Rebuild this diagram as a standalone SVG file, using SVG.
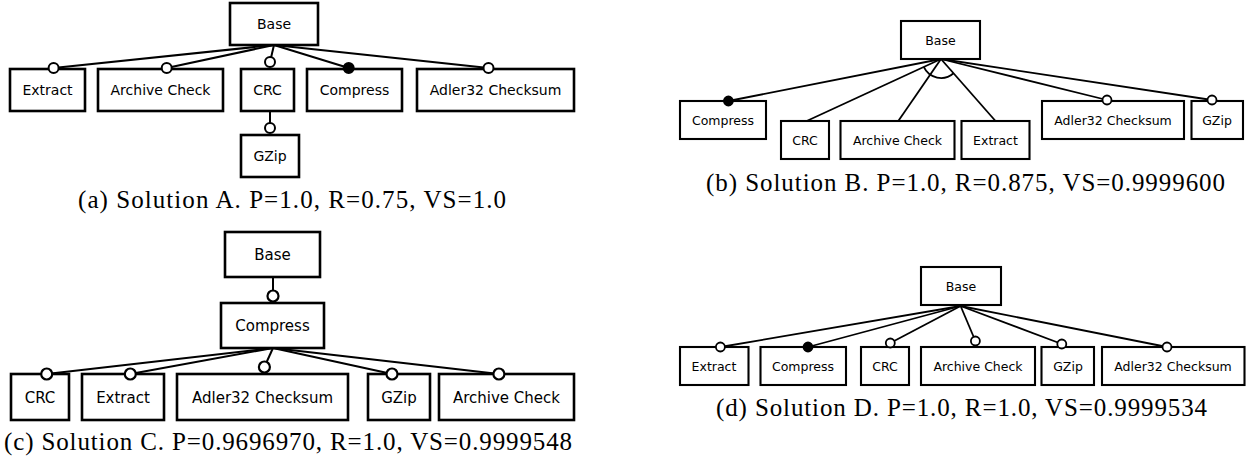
<svg xmlns="http://www.w3.org/2000/svg" width="1249" height="461" viewBox="0 0 1249 461">
<style>
  .box { fill: #fff; stroke: #000; }
  .bA { stroke-width: 2.6; }
  .bB { stroke-width: 2.1; }
  .lbl { font-family: "DejaVu Sans", sans-serif; fill: #000; text-anchor: middle; }
  .fA { font-size: 14px; }
  .fB { font-size: 12.5px; }
  .fC { font-size: 15px; }
  .edge { stroke: #000; fill: none; }
  .eA { stroke-width: 2; }
  .eB { stroke-width: 1.8; }
  .open { fill: #fff; stroke: #000; }
  .fill { fill: #000; stroke: #000; }
  .cap { font-family: "Liberation Serif", "Times New Roman", serif; font-size: 25px; fill: #000; }
</style>
<rect width="1249" height="461" fill="#fff"/>

<!-- Panel a nodes -->
<g id="a-base"><rect class="box bA" x="230" y="3" width="88" height="42"/><text class="lbl fA" x="274" y="29">Base</text></g>
<g id="a-extract"><rect class="box bA" x="10" y="69" width="75" height="42"/><text class="lbl fA" x="47.5" y="95">Extract</text></g>
<g id="a-archive"><rect class="box bA" x="98" y="69" width="125" height="42"/><text class="lbl fA" x="160.5" y="95">Archive Check</text></g>
<g id="a-crc"><rect class="box bA" x="241" y="69" width="53" height="42"/><text class="lbl fA" x="267.5" y="95">CRC</text></g>
<g id="a-compress"><rect class="box bA" x="307" y="69" width="95" height="42"/><text class="lbl fA" x="354.5" y="95">Compress</text></g>
<g id="a-adler"><rect class="box bA" x="417" y="69" width="157" height="42"/><text class="lbl fA" x="495.5" y="95">Adler32 Checksum</text></g>
<g id="a-gzip"><rect class="box bA" x="241" y="135" width="58" height="42"/><text class="lbl fA" x="270" y="161">GZip</text></g>
<text id="cap-a" class="cap" x="78" y="208" textLength="428" lengthAdjust="spacing">(a) Solution A. P=1.0, R=0.75, VS=1.0</text>

<!-- Panel b nodes -->
<g id="b-base"><rect class="box bB" x="901" y="21" width="79" height="38"/><text class="lbl fB" x="940.5" y="44.5">Base</text></g>
<g id="b-compress"><rect class="box bB" x="680" y="101" width="86" height="38"/><text class="lbl fB" x="723" y="124.5">Compress</text></g>
<g id="b-crc"><rect class="box bB" x="781" y="121" width="48" height="38"/><text class="lbl fB" x="805" y="144.5">CRC</text></g>
<g id="b-archive"><rect class="box bB" x="840.5" y="121" width="114" height="38"/><text class="lbl fB" x="897.5" y="144.5">Archive Check</text></g>
<g id="b-extract"><rect class="box bB" x="961.5" y="121" width="68" height="38"/><text class="lbl fB" x="995.5" y="144.5">Extract</text></g>
<g id="b-adler"><rect class="box bB" x="1042" y="101" width="142" height="38"/><text class="lbl fB" x="1113" y="124.5">Adler32 Checksum</text></g>
<g id="b-gzip"><rect class="box bB" x="1191.5" y="101" width="51.5" height="38"/><text class="lbl fB" x="1217" y="124.5">GZip</text></g>
<text id="cap-b" class="cap" x="706" y="191" textLength="519" lengthAdjust="spacing">(b) Solution B. P=1.0, R=0.875, VS=0.9999600</text>

<!-- Panel c nodes -->
<g id="c-base"><rect class="box bA" x="225" y="232" width="95" height="45"/><text class="lbl fC" x="272.5" y="260">Base</text></g>
<g id="c-compress"><rect class="box bA" x="221" y="303" width="103" height="45"/><text class="lbl fC" x="272.5" y="331">Compress</text></g>
<g id="c-crc"><rect class="box bA" x="11" y="374" width="58" height="46"/><text class="lbl fC" x="40" y="402.5">CRC</text></g>
<g id="c-extract"><rect class="box bA" x="82" y="374" width="82" height="46"/><text class="lbl fC" x="123" y="402.5">Extract</text></g>
<g id="c-adler"><rect class="box bA" x="177" y="374" width="171" height="46"/><text class="lbl fC" x="262.5" y="402.5">Adler32 Checksum</text></g>
<g id="c-gzip"><rect class="box bA" x="368" y="374" width="62" height="46"/><text class="lbl fC" x="399" y="402.5">GZip</text></g>
<g id="c-archive"><rect class="box bA" x="439" y="374" width="135" height="46"/><text class="lbl fC" x="506.5" y="402.5">Archive Check</text></g>
<text id="cap-c" class="cap" x="4" y="450" textLength="568" lengthAdjust="spacing">(c) Solution C. P=0.9696970, R=1.0, VS=0.9999548</text>

<!-- Panel d nodes -->
<g id="d-base"><rect class="box bB" x="921" y="267" width="80" height="38"/><text class="lbl fB" x="961" y="290.5">Base</text></g>
<g id="d-extract"><rect class="box bB" x="680" y="347" width="68.5" height="38"/><text class="lbl fB" x="714" y="370.5">Extract</text></g>
<g id="d-compress"><rect class="box bB" x="760.5" y="347" width="85.5" height="38"/><text class="lbl fB" x="803" y="370.5">Compress</text></g>
<g id="d-crc"><rect class="box bB" x="861" y="347" width="48" height="38"/><text class="lbl fB" x="885" y="370.5">CRC</text></g>
<g id="d-archive"><rect class="box bB" x="921" y="347" width="114" height="38"/><text class="lbl fB" x="978" y="370.5">Archive Check</text></g>
<g id="d-gzip"><rect class="box bB" x="1041.5" y="347" width="52.5" height="38"/><text class="lbl fB" x="1068" y="370.5">GZip</text></g>
<g id="d-adler"><rect class="box bB" x="1102" y="347" width="142.5" height="38"/><text class="lbl fB" x="1173" y="370.5">Adler32 Checksum</text></g>
<text id="cap-d" class="cap" x="716" y="416" textLength="491" lengthAdjust="spacing">(d) Solution D. P=1.0, R=1.0, VS=0.9999534</text>

<!-- Connectors (drawn above the boxes so the circle ends stay whole) -->
<g id="connectors">
  <!-- panel a -->
  <g class="edge eA">
    <line x1="274" y1="45" x2="53.6" y2="68"/>
    <line x1="274" y1="45" x2="166.7" y2="68"/>
    <line x1="274" y1="45" x2="270" y2="62"/>
    <line x1="274" y1="45" x2="348.7" y2="68"/>
    <line x1="274" y1="45" x2="488.5" y2="68"/>
    <line x1="270" y1="111" x2="270" y2="128"/>
  </g>
  <g stroke-width="2">
    <circle class="open" cx="53.6" cy="68" r="5"/>
    <circle class="open" cx="166.7" cy="68" r="5"/>
    <circle class="open" cx="270" cy="62" r="5"/>
    <circle class="fill" cx="348.7" cy="68" r="5"/>
    <circle class="open" cx="488.5" cy="68" r="5"/>
    <circle class="open" cx="270" cy="128" r="5"/>
  </g>
  <!-- panel b -->
  <g class="edge eB">
    <line x1="941" y1="59" x2="728.4" y2="101"/>
    <line x1="941" y1="59" x2="806.7" y2="121"/>
    <line x1="941" y1="59" x2="898.3" y2="121"/>
    <line x1="941" y1="59" x2="995.5" y2="121"/>
    <line x1="941" y1="59" x2="1107" y2="100"/>
    <line x1="941" y1="59" x2="1212" y2="100"/>
    <path d="M923.75,66.96 A19,19 0 0 0 953.54,73.27"/>
  </g>
  <g stroke-width="1.8">
    <circle class="fill" cx="728.4" cy="101" r="4.5"/>
    <circle class="open" cx="1107" cy="100" r="4.5"/>
    <circle class="open" cx="1212" cy="100" r="4.5"/>
  </g>
  <!-- panel c -->
  <g class="edge eA">
    <line x1="273" y1="277" x2="273" y2="296"/>
    <line x1="273" y1="348" x2="46.7" y2="374"/>
    <line x1="273" y1="348" x2="130.3" y2="374"/>
    <line x1="273" y1="348" x2="264.4" y2="367"/>
    <line x1="273" y1="348" x2="392" y2="374"/>
    <line x1="273" y1="348" x2="498.9" y2="374"/>
  </g>
  <g stroke-width="2.2">
    <circle class="open" cx="273" cy="296" r="5.5"/>
    <circle class="open" cx="46.7" cy="374" r="5.5"/>
    <circle class="open" cx="130.3" cy="374" r="5.5"/>
    <circle class="open" cx="264.4" cy="367" r="5.5"/>
    <circle class="open" cx="392" cy="374" r="5.5"/>
    <circle class="open" cx="498.9" cy="374" r="5.5"/>
  </g>
  <!-- panel d -->
  <g class="edge eB">
    <line x1="960.6" y1="306" x2="720.4" y2="347"/>
    <line x1="960.6" y1="306" x2="808" y2="347"/>
    <line x1="960.6" y1="306" x2="890.3" y2="343"/>
    <line x1="960.6" y1="306" x2="975.4" y2="341"/>
    <line x1="960.6" y1="306" x2="1061.8" y2="344"/>
    <line x1="960.6" y1="306" x2="1167" y2="347"/>
  </g>
  <g stroke-width="1.8">
    <circle class="open" cx="720.4" cy="347" r="4.5"/>
    <circle class="fill" cx="808" cy="347" r="4.5"/>
    <circle class="open" cx="890.3" cy="343" r="4.5"/>
    <circle class="open" cx="975.4" cy="341" r="4.5"/>
    <circle class="open" cx="1061.8" cy="344" r="4.5"/>
    <circle class="open" cx="1167" cy="347" r="4.5"/>
  </g>
</g>
</svg>
